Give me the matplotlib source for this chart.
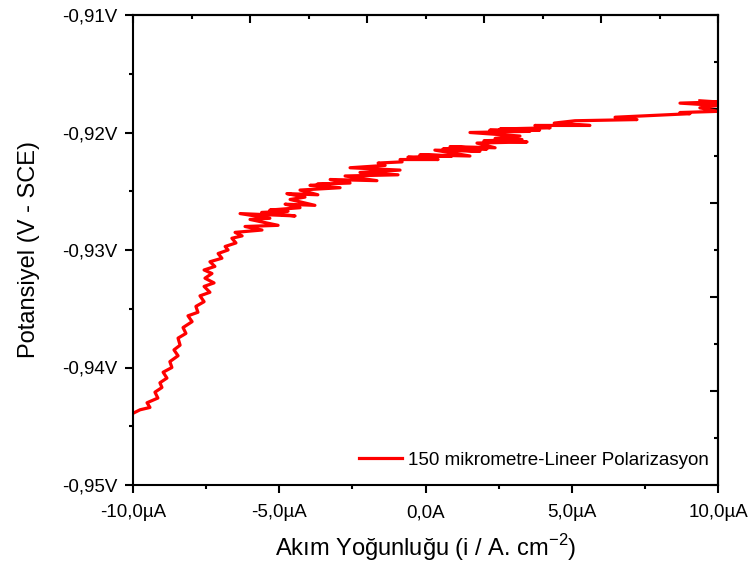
import matplotlib
matplotlib.use("Agg")
import matplotlib.pyplot as plt
from matplotlib.ticker import FixedLocator, FuncFormatter

plt.rcParams['font.family'] = ['Liberation Sans', 'DejaVu Sans']

# current density (uA) and potential (V)
current = [-10.00, -9.76, -9.42, -9.52, -9.15, -9.25, -9.01, -9.08, -8.84, -8.97,
           -8.67, -8.74, -8.46, -8.60, -8.39, -8.46, -8.19, -8.29, -7.98, -8.12,
           -7.78, -7.85, -7.57, -7.71, -7.37, -7.57, -7.23, -7.54, -7.30, -7.57,
           -7.20, -7.37, -6.96, -7.09, -6.75, -6.85, -6.48, -6.62, -6.27, -6.51,
           -5.59, -6.17, -5.04, -6.00, -5.32, -6.34, -4.46, -5.60, -4.70, -5.32,
           -4.29, -4.80, -3.78, -4.63, -4.12, -4.74, -3.68, -4.29, -2.92, -3.95,
           -3.30, -3.70, -2.58, -3.26, -1.66, -2.75, -0.94, -2.24, -0.87, -2.58,
           -1.38, -1.62, -0.80, -0.87, 0.43, -0.60, 0.90, -0.19, 1.52, 0.32,
           1.86, 0.60, 2.10, 0.84, 2.38, 1.76, 3.47, 2.00, 3.30, 2.38,
           3.23, 1.52, 3.57, 2.20, 3.90, 2.55, 4.26, 3.74, 5.62, 4.40,
           5.11, 7.23, 6.48, 9.04, 8.70, 10.00, 9.38, 10.00, 8.70, 10.00,
           9.38]
potential = [-0.9439, -0.9436, -0.9434, -0.9430, -0.9426, -0.9421, -0.9417, -0.9413, -0.9409, -0.9404,
             -0.9400, -0.9395, -0.9390, -0.9385, -0.9381, -0.9375, -0.9371, -0.9366, -0.9361, -0.9356,
             -0.9353, -0.9348, -0.9344, -0.9339, -0.9336, -0.9331, -0.9328, -0.9324, -0.9320, -0.9317,
             -0.9314, -0.9310, -0.9307, -0.9303, -0.9300, -0.9297, -0.9294, -0.9290, -0.9288, -0.9285,
             -0.9283, -0.9280, -0.9279, -0.9274, -0.9273, -0.9269, -0.9271, -0.9268, -0.9267, -0.9266,
             -0.9264, -0.9261, -0.9262, -0.9257, -0.9255, -0.9252, -0.9253, -0.9249, -0.9247, -0.9245,
             -0.9244, -0.9244, -0.9243, -0.9240, -0.9241, -0.9237, -0.9236, -0.9234, -0.9232, -0.9230,
             -0.9228, -0.9226, -0.9225, -0.9223, -0.9223, -0.9221, -0.9220, -0.9219, -0.9220, -0.9215,
             -0.9216, -0.9214, -0.9214, -0.9212, -0.9213, -0.9209, -0.9208, -0.9207, -0.9206, -0.9205,
             -0.9203, -0.9200, -0.9199, -0.9198, -0.9198, -0.9197, -0.9196, -0.9194, -0.9194, -0.9192,
             -0.9190, -0.9189, -0.9187, -0.9184, -0.9183, -0.9182, -0.9179, -0.9177, -0.9175, -0.9174,
             -0.9173]

x_ticks = [-10, -5, 0, 5, 10]
y_ticks = [-0.95, -0.94, -0.93, -0.92, -0.91]
series_label = "150 mikrometre-Lineer Polarizasyon"


def fmt_x(v, pos):
    if abs(v) < 1e-9:
        return "0,0A"
    return f"{v:.1f}µA".replace(".", ",")


def fmt_y(v, pos):
    return f"{v:.2f}V".replace(".", ",")


fig = plt.figure(figsize=(7.49, 5.68), dpi=100)
ax = fig.add_axes([133 / 749, 83 / 568, 585 / 749, 470 / 568])

ax.plot(current, potential, color='#ff0000', lw=2.3, label=series_label)

ax.set_xlim(-10, 10)
ax.set_ylim(-0.95, -0.91)
ax.xaxis.set_major_locator(FixedLocator(x_ticks))
ax.xaxis.set_minor_locator(FixedLocator([-7.5, -2.5, 2.5, 7.5]))
ax.yaxis.set_major_locator(FixedLocator(y_ticks))
ax.yaxis.set_minor_locator(FixedLocator([-0.945, -0.935, -0.925, -0.915]))
ax.xaxis.set_major_formatter(FuncFormatter(fmt_x))
ax.yaxis.set_major_formatter(FuncFormatter(fmt_y))
ax.tick_params(which='both', direction='out', top=False, right=False, width=1.5, labelsize=13.5)
ax.tick_params(which='major', length=6)
ax.tick_params(which='minor', length=3)
ax.tick_params(axis='x', which='major', pad=8)
ax.tick_params(axis='y', which='major', pad=5)
for sp in ax.spines.values():
    sp.set_linewidth(1.5)

# top and right axes with their own inward ticks
top = ax.secondary_xaxis('top')
top.set_xticks([-10, -6, -2, 2, 6, 10])
top.xaxis.set_minor_locator(FixedLocator([-8, -4, 0, 4, 8]))
top.tick_params(which='both', direction='in', labeltop=False, width=1.5)
top.tick_params(which='major', length=6)
top.tick_params(which='minor', length=3)
top.spines['top'].set_linewidth(1.5)

right = ax.secondary_yaxis('right')
right.set_yticks([-0.95, -0.942, -0.934, -0.926, -0.918, -0.91])
right.yaxis.set_minor_locator(FixedLocator([-0.946, -0.938, -0.930, -0.922, -0.914]))
right.tick_params(which='both', direction='in', labelright=False, width=1.5)
right.tick_params(which='major', length=6)
right.tick_params(which='minor', length=3)
right.spines['right'].set_linewidth(1.5)

ax.set_xlabel("Akım Yoğunluğu (i / A. cm$^{\\mathregular{-2}}$)", fontsize=17, labelpad=8)
ax.set_ylabel("Potansiyel (V - SCE)", fontsize=17, labelpad=16)

ax.legend(loc='lower right', bbox_to_anchor=(0.985, 0.035), frameon=False,
          fontsize=13.5, handlelength=2.3, handletextpad=0.35,
          borderpad=0, borderaxespad=0)

fig.savefig("out.png", dpi=100)
